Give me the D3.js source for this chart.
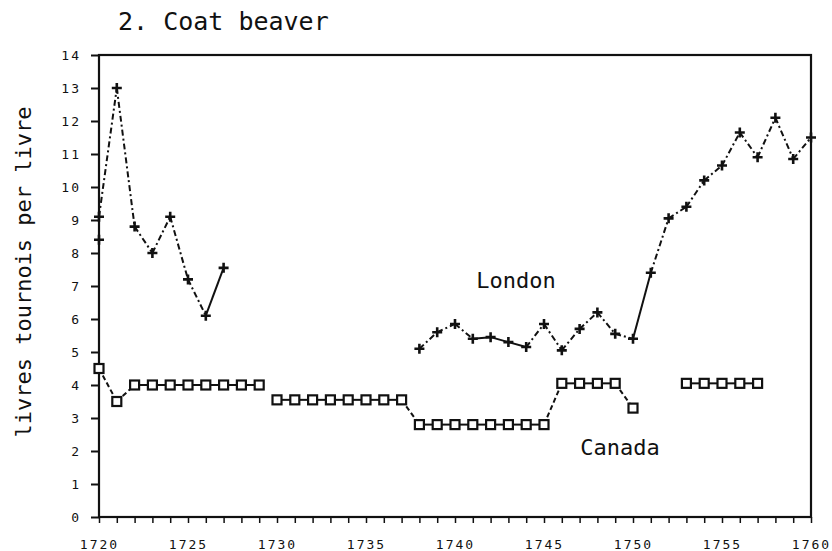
<!DOCTYPE html>
<html>
<head>
<meta charset="utf-8">
<title>Coat beaver</title>
<style>
  body { margin: 0; background: #fff; }
  svg { display: block; }
  text { font-family: "DejaVu Sans Mono", monospace; fill: #111; }
  .tick text { font-size: 13px; letter-spacing: 2px; }
  .frame { fill: none; stroke: #111; stroke-width: 2.2; }
</style>
<script src="https://cdn.jsdelivr.net/npm/d3@7/dist/d3.min.js"></script>
</head>
<body>
<svg width="832" height="551"></svg>
<script>
// data (livres tournois per livre)
var londonYears  = [1720, 1721, 1722, 1723, 1724, 1725, 1726, 1727,
                    1738, 1739, 1740, 1741, 1742, 1743, 1744, 1745, 1746, 1747, 1748, 1749, 1750,
                    1751, 1752, 1753, 1754, 1755, 1756, 1757, 1758, 1759, 1760];
var londonValues = [9.1, 13.0, 8.8, 8.0, 9.1, 7.2, 6.1, 7.55,
                    5.1, 5.6, 5.85, 5.4, 5.45, 5.3, 5.15, 5.85, 5.05, 5.7, 6.2, 5.55, 5.4,
                    7.4, 9.05, 9.4, 10.2, 10.65, 11.65, 10.9, 12.1, 10.85, 11.5];
var londonExtraYears  = [1720];
var londonExtraValues = [8.4];

var canadaYears  = [1720, 1721, 1722, 1723, 1724, 1725, 1726, 1727, 1728, 1729,
                    1730, 1731, 1732, 1733, 1734, 1735, 1736, 1737,
                    1738, 1739, 1740, 1741, 1742, 1743, 1744, 1745,
                    1746, 1747, 1748, 1749, 1750,
                    1753, 1754, 1755, 1756, 1757];
var canadaValues = [4.5, 3.5, 4.0, 4.0, 4.0, 4.0, 4.0, 4.0, 4.0, 4.0,
                    3.55, 3.55, 3.55, 3.55, 3.55, 3.55, 3.55, 3.55,
                    2.8, 2.8, 2.8, 2.8, 2.8, 2.8, 2.8, 2.8,
                    4.05, 4.05, 4.05, 4.05, 3.3,
                    4.05, 4.05, 4.05, 4.05, 4.05];
var canadaBreakAfter = [1729, 1750];   // no line joins these to the next point

var yTicks = d3.range(0, 15);
var xLabelYears = [1720, 1725, 1730, 1735, 1740, 1745, 1750, 1755, 1760];

var svg = d3.select("svg");
var pl = 99, pr = 811, pt = 55, pb = 517;   // plot box

var x = d3.scaleLinear().domain([1720, 1760]).range([pl, pr]);
var y = d3.scaleLinear().domain([0, 14]).range([pb, pt]);

// frame
svg.append("rect").attr("class", "frame")
   .attr("x", pl).attr("y", pt)
   .attr("width", pr - pl).attr("height", pb - pt);

// y axis
var gy = svg.append("g").attr("transform", "translate(" + pl + ",0)")
  .call(d3.axisLeft(y).tickValues(yTicks).tickSize(8).tickPadding(10).tickFormat(d3.format("d")));
gy.select(".domain").remove();
gy.selectAll(".tick line").attr("stroke", "#111").attr("stroke-width", 2);
gy.selectAll(".tick text").attr("font-size", 12);

// x axis: a tick each year, labels every 5
var gx = svg.append("g").attr("transform", "translate(0," + pb + ")")
  .call(d3.axisBottom(x).tickValues(d3.range(1720, 1761)).tickSize(6).tickPadding(17)
        .tickFormat(function(d) { return xLabelYears.indexOf(d) >= 0 ? d : ""; }));
gx.select(".domain").remove();
gx.selectAll(".tick line").attr("stroke", "#111").attr("stroke-width", 1.5);

// London: dash-dot line with + markers
var london = londonYears.map(function(yr, i) { return {yr: yr, v: londonValues[i]}; });
for (var i = 1; i < london.length; i++) {
  var a = london[i - 1], b = london[i];
  if (b.yr - a.yr > 1) continue;
  svg.append("line")
     .attr("x1", x(a.yr)).attr("y1", y(a.v))
     .attr("x2", x(b.yr)).attr("y2", y(b.v))
     .attr("stroke", "#111").attr("stroke-width", 2)
     .attr("stroke-dasharray", (a.yr >= 1741 && a.yr < 1744) || a.yr == 1750 || a.yr == 1726 ? null : "6,3,2,3");
}
function plus(g, px, py) {
  g.append("path")
   .attr("d", "M" + (px - 5) + "," + py + "H" + (px + 5) + "M" + px + "," + (py - 5) + "V" + (py + 5))
   .attr("stroke", "#111").attr("stroke-width", 2.6).attr("fill", "none");
}
var gl = svg.append("g");
london.forEach(function(d) { plus(gl, x(d.yr), y(d.v)); });
londonExtraYears.forEach(function(yr, i) { plus(gl, x(yr), y(londonExtraValues[i])); });

// Canada: solid where flat, dashed where it steps, open squares
var canada = canadaYears.map(function(yr, i) { return {yr: yr, v: canadaValues[i]}; });
for (var j = 1; j < canada.length; j++) {
  var p = canada[j - 1], q = canada[j];
  if (q.yr - p.yr > 1 || canadaBreakAfter.indexOf(p.yr) >= 0) continue;
  svg.append("line")
     .attr("x1", x(p.yr)).attr("y1", y(p.v))
     .attr("x2", x(q.yr)).attr("y2", y(q.v))
     .attr("stroke", "#111").attr("stroke-width", 2)
     .attr("stroke-dasharray", p.v == q.v ? null : "5,3");
}
svg.append("g").selectAll("rect").data(canada).join("rect")
   .attr("x", function(d) { return x(d.yr) - 4.5; })
   .attr("y", function(d) { return y(d.v) - 4.5; })
   .attr("width", 9).attr("height", 9)
   .attr("fill", "#fff").attr("stroke", "#111").attr("stroke-width", 2.2);

// texts
svg.append("text").attr("x", 118).attr("y", 30)
   .attr("font-size", 25).text("2. Coat beaver");
svg.append("text")
   .attr("transform", "translate(31,272) rotate(-90)")
   .attr("text-anchor", "middle").attr("font-size", 22)
   .text("livres tournois per livre");
svg.append("text").attr("x", 516).attr("y", 288)
   .attr("text-anchor", "middle").attr("font-size", 22).text("London");
svg.append("text").attr("x", 620).attr("y", 455)
   .attr("text-anchor", "middle").attr("font-size", 22).text("Canada");
</script>
</body>
</html>
